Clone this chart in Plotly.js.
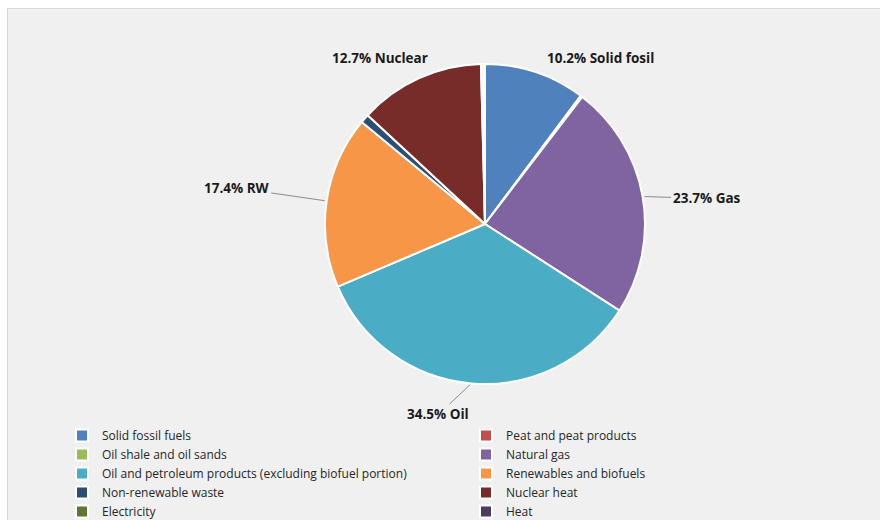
<!DOCTYPE html>
<html>
<head>
<meta charset="utf-8">
<script src="https://cdn.plot.ly/plotly-3.0.1.min.js"></script>
<style>
  html, body { margin: 0; padding: 0; background: #ffffff; overflow: hidden; width: 880px; height: 520px; }
  #chart { position: absolute; left: 7px; top: 8px; width: 872px; height: 560px;
           border-left: 1px solid #d9d9d9; border-top: 1px solid #d9d9d9; }
</style>
</head>
<body>
<div id="chart"></div>
<script>
// ---- data ----
const categories = [
  "Solid fossil fuels",
  "Peat and peat products",
  "Oil shale and oil sands",
  "Natural gas",
  "Oil and petroleum products (excluding biofuel portion)",
  "Renewables and biofuels",
  "Non-renewable waste",
  "Nuclear heat",
  "Electricity",
  "Heat"
];
const shares = [10.2, 0.1, 0.1, 23.7, 34.5, 17.4, 0.9, 12.7, 0.2, 0.2];
const shortNames = ["Solid fosil", "", "", "Gas", "Oil", "RW", "", "Nuclear", "", ""];
const colors = ["#4f81bd", "#c0504d", "#9bbb59", "#8064a2", "#4bacc6",
                "#f79646", "#2c4d75", "#772c2a", "#5f7530", "#4d3b62"];

// ---- label placement styles (pixel offsets from slice edge) ----
const labelOffsets = {
  "Solid fosil": {dx: 65, dy: -14, line: false},
  "Gas":         {dx: 64, dy: 2,   line: true},
  "Oil":         {dx: -33, dy: 31, line: true},
  "RW":          {dx: -90, dy: -13, line: true},
  "Nuclear":     {dx: -39, dy: -20, line: false}
};

const W = 872, H = 560, CX = 477, CY = 215, R = 160;
const FONT = "'Open Sans', Lato, sans-serif";

const total = shares.reduce((a, b) => a + b, 0);
const annotations = [];
let cum = 0;
shares.forEach((v, i) => {
  const mid = (cum + v / 2) / total * 2 * Math.PI;
  cum += v;
  const name = shortNames[i];
  if (!name) return;
  const px = CX + R * Math.sin(mid);
  const py = CY - R * Math.cos(mid);
  const off = labelOffsets[name];
  const txt = "<b>" + v.toFixed(1) + "% " + name + "</b>";
  const base = {
    xref: "paper", yref: "paper",
    x: px / W, y: 1 - py / H,
    text: txt,
    font: {family: FONT, size: 13.5, color: "#1a1a1a"}
  };
  if (off.line) {
    annotations.push(Object.assign(base, {
      showarrow: true, arrowhead: 0, arrowwidth: 1, arrowcolor: "#8c8c8c",
      ax: off.dx, ay: off.dy, standoff: 2
    }));
  } else {
    annotations.push(Object.assign(base, {
      showarrow: false, xanchor: "center", yanchor: "middle",
      xshift: off.dx, yshift: -off.dy
    }));
  }
});

const trace = {
  type: "pie",
  labels: categories,
  values: shares,
  sort: false,
  direction: "clockwise",
  rotation: 0,
  textinfo: "none",
  hoverinfo: "label+percent",
  marker: {colors: colors, line: {color: "#ffffff", width: 2}},
  domain: {x: [(CX - R) / W, (CX + R) / W], y: [1 - (CY + R) / H, 1 - (CY - R) / H]}
};

const layout = {
  width: W, height: H,
  margin: {l: 0, r: 0, t: 0, b: 0},
  paper_bgcolor: "#f0f0f0",
  plot_bgcolor: "#f0f0f0",
  showlegend: true,
  legend: {
    orientation: "h",
    x: 54 / W, xanchor: "left",
    y: 1 - 412 / H, yanchor: "top",
    entrywidth: 359, entrywidthmode: "pixels",
    bgcolor: "rgba(0,0,0,0)",
    font: {family: FONT, size: 12, color: "#262626"},
    traceorder: "normal"
  },
  annotations: annotations
};

Plotly.newPlot("chart", [trace], layout, {displayModeBar: false, staticPlot: true});
</script>
</body>
</html>
